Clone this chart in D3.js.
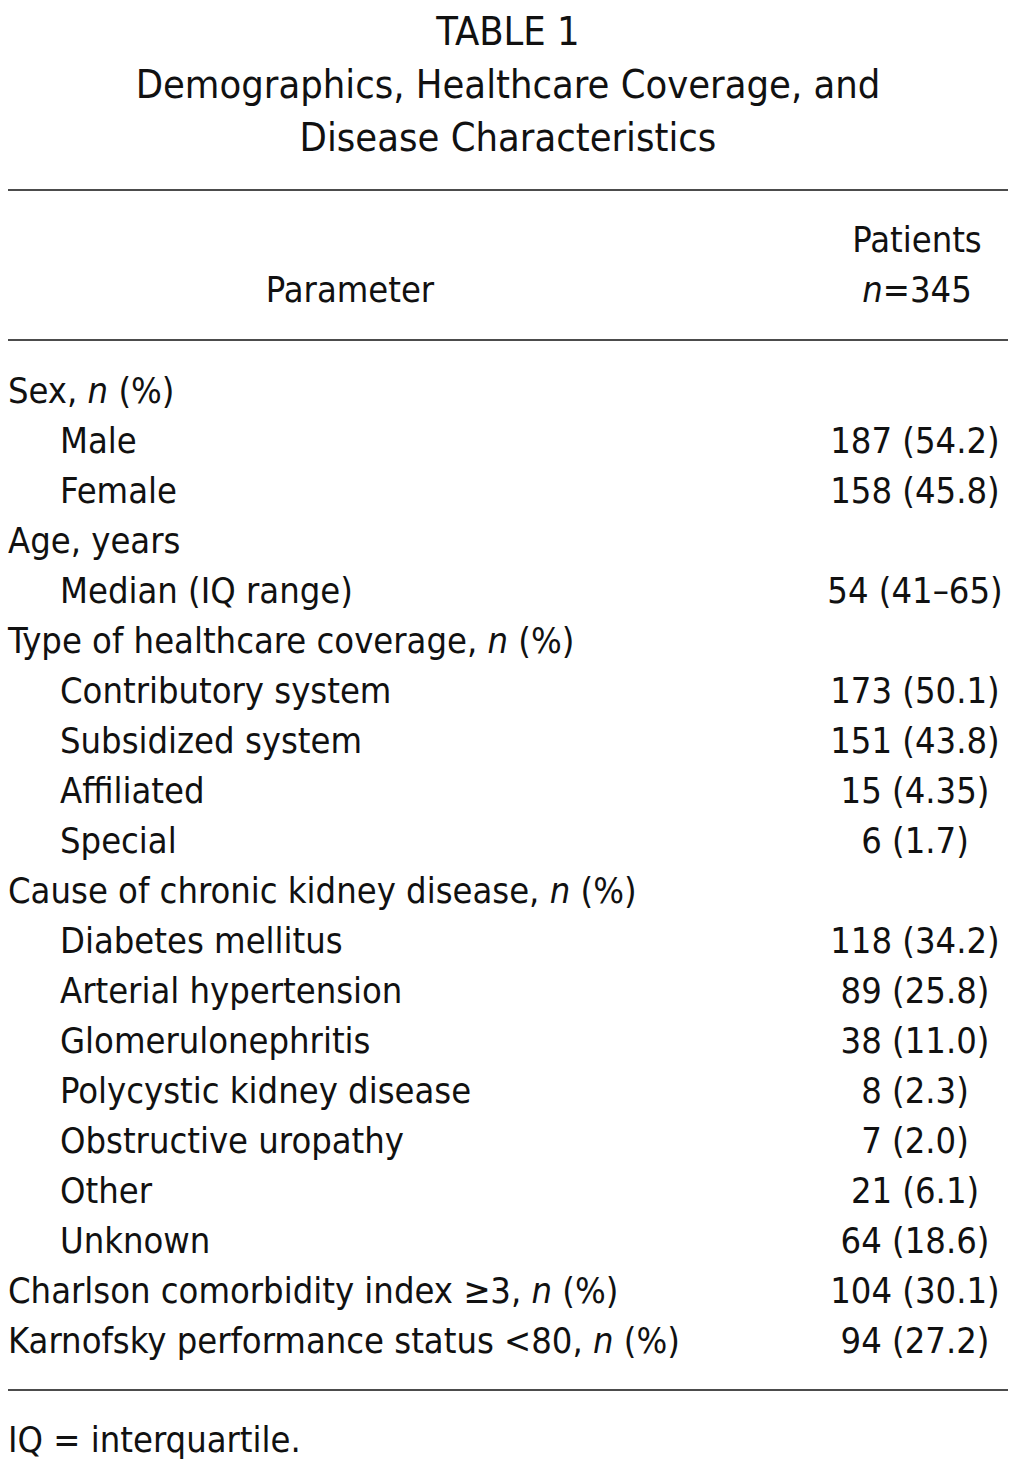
<!DOCTYPE html>
<html>
<head>
<meta charset="utf-8">
<script src="https://cdn.jsdelivr.net/npm/d3@7"></script>
<style>
  body { margin: 0; background: #fff; }
  svg text { font-family: "Liberation Sans Narrow", "DejaVu Sans Condensed", sans-serif; fill: #111; }
</style>
</head>
<body>
<script>
// table content
let titleLines = ["TABLE 1", "Demographics, Healthcare Coverage, and", "Disease Characteristics"];
let headLeft = "Parameter";
let headRight = ["Patients", "n=345"];

// row labels, indent level (0 = group, 1 = sub item) and values
let rowLabels = [
  "Sex, n (%)", "Male", "Female",
  "Age, years", "Median (IQ range)",
  "Type of healthcare coverage, n (%)", "Contributory system", "Subsidized system", "Affiliated", "Special",
  "Cause of chronic kidney disease, n (%)", "Diabetes mellitus", "Arterial hypertension", "Glomerulonephritis",
  "Polycystic kidney disease", "Obstructive uropathy", "Other", "Unknown",
  "Charlson comorbidity index \u22653, n (%)", "Karnofsky performance status <80, n (%)"
];
let rowLevels = [0, 1, 1, 0, 1, 0, 1, 1, 1, 1, 0, 1, 1, 1, 1, 1, 1, 1, 0, 0];
let rowValues = [
  "", "187 (54.2)", "158 (45.8)",
  "", "54 (41\u201365)",
  "", "173 (50.1)", "151 (43.8)", "15 (4.35)", "6 (1.7)",
  "", "118 (34.2)", "89 (25.8)", "38 (11.0)", "8 (2.3)", "7 (2.0)", "21 (6.1)", "64 (18.6)",
  "104 (30.1)", "94 (27.2)"
];
let footnote = "IQ = interquartile.";

let width = 1017, height = 1474;
let fs = 36;

let svg = d3.select("body").append("svg")
    .attr("width", width)
    .attr("height", height);

// title
svg.selectAll(".title")
    .data(titleLines)
    .enter().append("text")
    .attr("class", "title")
    .attr("x", 508)
    .attr("y", (d, i) => 45 + i * 53)
    .attr("text-anchor", "middle")
    .style("font-size", "39.5px")
    .text(d => d);

// rules
let rules = [190, 340, 1390];
svg.selectAll(".rule")
    .data(rules)
    .enter().append("line")
    .attr("class", "rule")
    .attr("x1", 8).attr("x2", 1008)
    .attr("y1", d => d).attr("y2", d => d)
    .attr("stroke", "#111")
    .attr("stroke-width", 1.5);

// header
svg.append("text")
    .attr("x", 350).attr("y", 302)
    .attr("text-anchor", "middle")
    .style("font-size", fs + "px")
    .text(headLeft);

svg.append("text")
    .attr("x", 917).attr("y", 252)
    .attr("text-anchor", "middle")
    .style("font-size", fs + "px")
    .text(headRight[0]);

// italic n in "n=345"
function withItalicN(sel, s) {
  let parts = s.split(/(\bn\b)/);
  parts.forEach(p => {
    if (!p) return;
    sel.append("tspan")
      .style("font-style", p === "n" ? "italic" : null)
      .text(p);
  });
}

withItalicN(svg.append("text")
    .attr("x", 917).attr("y", 302)
    .attr("text-anchor", "middle")
    .style("font-size", fs + "px"), headRight[1]);

// rows
let y = d3.scalePoint()
    .domain(d3.range(rowLabels.length))
    .range([390, 1340]);

let x = d3.scaleOrdinal()
    .domain([0, 1])
    .range([8, 60]);

let rows = svg.selectAll(".row")
    .data(rowLabels.map((d, i) => ({ label: d, level: rowLevels[i], value: rowValues[i], i: i })))
    .enter().append("g")
    .attr("class", "row")
    .attr("transform", d => "translate(0," + y(d.i) + ")");

rows.append("text")
    .attr("x", d => x(d.level))
    .attr("dy", "0.35em")
    .style("font-size", fs + "px")
    .each(function(d) { withItalicN(d3.select(this), d.label); });

rows.append("text")
    .attr("x", 915)
    .attr("dy", "0.35em")
    .attr("text-anchor", "middle")
    .style("font-size", fs + "px")
    .text(d => d.value);

// footnote
svg.append("text")
    .attr("x", 8).attr("y", 1452)
    .style("font-size", fs + "px")
    .text(footnote);
</script>
</body>
</html>
